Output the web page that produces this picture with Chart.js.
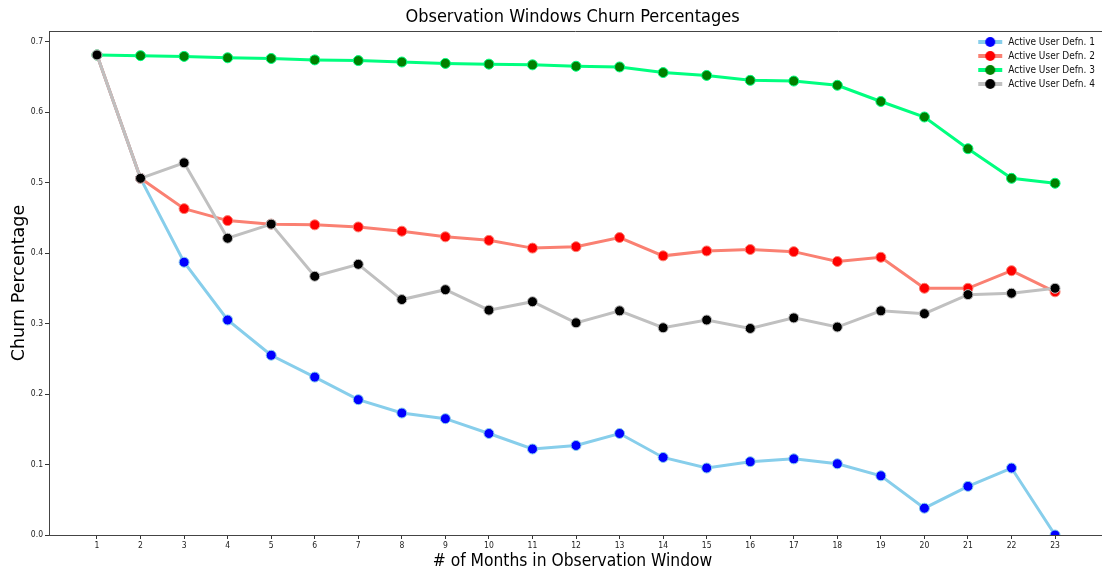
<!DOCTYPE html>
<html>
<head>
<meta charset="utf-8">
<script src="https://cdn.jsdelivr.net/npm/chart.js@4.4.0/dist/chart.umd.min.js"></script>
<style>
  body { margin: 0; background: #fff; }
</style>
</head>
<body>
<canvas id="myChart" width="1102" height="572"></canvas>
<script>
// months in the observation window
const months = [1, 2, 3, 4, 5, 6, 7, 8, 9, 10, 11, 12, 13, 14, 15, 16, 17, 18, 19, 20, 21, 22, 23];
const yTicks = [0, 0.1, 0.2, 0.3, 0.4, 0.5, 0.6, 0.7];

// churn percentages
const defn1 = [0.681, 0.506, 0.387, 0.305, 0.255, 0.224, 0.192, 0.173, 0.165, 0.144, 0.122, 0.127,
               0.144, 0.110, 0.095, 0.104, 0.108, 0.101, 0.084, 0.038, 0.069, 0.095, 0.000];
const defn2 = [0.681, 0.506, 0.463, 0.446, 0.441, 0.440, 0.437, 0.431, 0.423, 0.418, 0.407, 0.409,
               0.422, 0.396, 0.403, 0.405, 0.402, 0.388, 0.394, 0.350, 0.350, 0.375, 0.345];
const defn3 = [0.681, 0.680, 0.679, 0.677, 0.676, 0.674, 0.673, 0.671, 0.669, 0.668, 0.667, 0.665,
               0.664, 0.656, 0.652, 0.645, 0.644, 0.638, 0.615, 0.593, 0.548, 0.506, 0.499];
const defn4 = [0.681, 0.506, 0.528, 0.421, 0.441, 0.367, 0.384, 0.334, 0.348, 0.319, 0.331, 0.301,
               0.318, 0.294, 0.305, 0.293, 0.308, 0.295, 0.318, 0.314, 0.341, 0.343, 0.350];

const labels = ['Active User Defn. 1', 'Active User Defn. 2', 'Active User Defn. 3', 'Active User Defn. 4'];
const lineColors = ['#87CEEB', '#FA8072', '#00FF7F', '#C0C0C0'];
const markerColors = ['#0000FF', '#FF0000', '#008000', '#000000'];

const FONT = "'DejaVu Sans Condensed', 'DejaVu Sans', sans-serif";

// little line+marker pictures for the legend
function makeHandle(lineColor, markerColor) {
  var c = document.createElement('canvas');
  c.width = 26; c.height = 12;
  var g = c.getContext('2d');
  g.strokeStyle = lineColor;
  g.lineWidth = 4;
  g.beginPath(); g.moveTo(1, 6); g.lineTo(25, 6); g.stroke();
  g.fillStyle = markerColor;
  g.beginPath(); g.arc(13, 6, 5, 0, Math.PI * 2); g.fill();
  return c;
}
const handles = lineColors.map((c, i) => makeHandle(c, markerColors[i]));

function toXY(vals) {
  return vals.map((v, i) => ({ x: months[i], y: v }));
}

const series = [defn1, defn2, defn3, defn4];
const datasets = series.map((vals, i) => ({
  label: labels[i],
  data: toXY(vals),
  borderColor: lineColors[i],
  backgroundColor: markerColors[i],
  borderWidth: 3,
  pointRadius: 5,
  pointHoverRadius: 5,
  pointBackgroundColor: markerColors[i],
  pointBorderColor: lineColors[i],
  pointBorderWidth: 1,
  tension: 0,
  order: 4 - i   // later series drawn on top, like matplotlib
}));

// top spine (plus bottom spine to the edge) and legend placement in the upper right
const framePlugin = {
  id: 'frame',
  beforeDraw(chart) {
    const a = chart.chartArea;
    const lg = chart.legend;
    if (lg) {
      const w = lg.width;
      lg.left = a.right - w + 9;
      lg.right = lg.left + w;
      lg.top = a.top + 2;
      lg.bottom = lg.top + lg.height;
    }
  },
  afterDraw(chart) {
    const a = chart.chartArea;
    const ctx = chart.ctx;
    ctx.save();
    ctx.strokeStyle = '#444';
    ctx.lineWidth = 1;
    ctx.beginPath();
    ctx.moveTo(a.left, a.top + 0.5);
    ctx.lineTo(chart.width, a.top + 0.5);
    ctx.moveTo(a.right - 1, a.bottom + 0.5);
    ctx.lineTo(chart.width, a.bottom + 0.5);
    ctx.stroke();
    ctx.restore();
  }
};

var ctx = document.getElementById('myChart').getContext('2d');
var chart = new Chart(ctx, {
  type: 'line',
  data: { datasets: datasets },
  plugins: [framePlugin],
  options: {
    responsive: false,
    animation: false,
    layout: { padding: 0 },
    plugins: {
      tooltip: { enabled: false },
      title: {
        display: true,
        fullSize: false,
        text: 'Observation Windows Churn Percentages',
        color: '#000',
        font: { family: FONT, size: 18, weight: 'normal' },
        padding: { top: 7, bottom: 2.4 }
      },
      legend: {
        position: 'chartArea',
        align: 'start',
        labels: {
          usePointStyle: true,
          pointStyleWidth: 26,
          color: '#111',
          padding: 4,
          font: { family: FONT, size: 10 },
          sort: (a, b) => a.datasetIndex - b.datasetIndex,
          generateLabels: (ch) => Chart.defaults.plugins.legend.labels.generateLabels(ch)
            .map(l => Object.assign(l, { pointStyle: handles[l.datasetIndex] }))
        }
      }
    },
    scales: {
      x: {
        type: 'linear',
        min: -0.102,
        max: 23.94,
        afterBuildTicks: (s) => { s.ticks = months.map(v => ({ value: v })); },
        afterFit: (s) => { s.height = 37; s.paddingLeft = 0; s.paddingRight = 0; },
        grid: { drawOnChartArea: false, tickLength: 4, tickColor: '#333' },
        border: { display: true, color: '#444', width: 1 },
        ticks: {
          padding: 2,
          maxRotation: 0,
          autoSkip: false,
          color: '#222',
          font: { family: FONT, size: 8.5 }
        },
        title: {
          display: true,
          text: '# of Months in Observation Window',
          color: '#000',
          font: { family: FONT, size: 17.3 },
          padding: { top: 0, bottom: 0 }
        }
      },
      y: {
        min: 0,
        max: 0.715,
        afterBuildTicks: (s) => { s.ticks = yTicks.map(v => ({ value: v })); },
        afterFit: (s) => { s.width = 49; s.paddingTop = 0; s.paddingBottom = 0; },
        grid: { drawOnChartArea: false, tickLength: 4, tickColor: '#333' },
        border: { display: true, color: '#444', width: 1 },
        ticks: {
          padding: 2,
          color: '#222',
          font: { family: FONT, size: 8.5 },
          callback: (v) => Number(v).toFixed(1)
        },
        title: {
          display: true,
          text: 'Churn Percentage',
          color: '#000',
          font: { family: "'DejaVu Sans', sans-serif", size: 17.5 },
          padding: { top: 9, bottom: 0 }
        }
      }
    }
  }
});
</script>
</body>
</html>
